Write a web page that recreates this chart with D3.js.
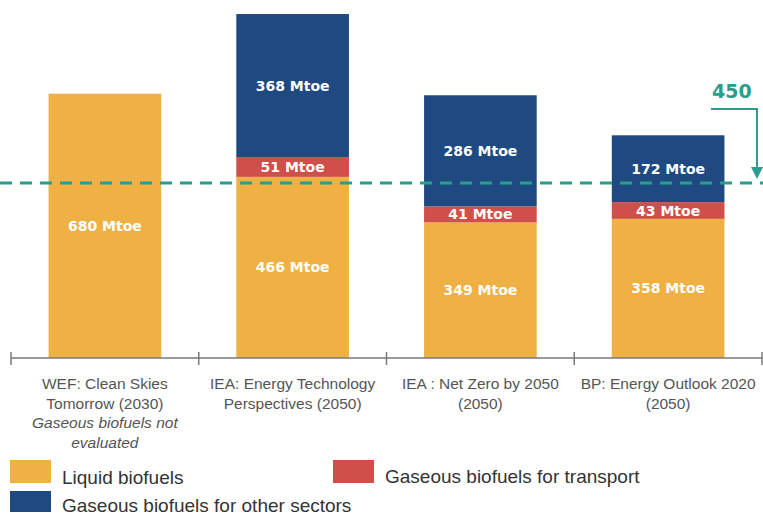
<!DOCTYPE html>
<html>
<head>
<meta charset="utf-8">
<script src="https://cdn.jsdelivr.net/npm/d3@7"></script>
<style>
  html, body { margin: 0; padding: 0; background: #ffffff; }
  svg { display: block; }
</style>
</head>
<body>
<svg id="chart" width="763" height="518"></svg>
<script>
// Biofuel demand scenarios (Mtoe)
const scenarios = ["WEF", "IEA ETP", "IEA NZE", "BP EO"];
const scenarioLines = [
  ["WEF: Clean Skies", "Tomorrow (2030)"],
  ["IEA: Energy Technology", "Perspectives (2050)"],
  ["IEA : Net Zero by 2050", "(2050)"],
  ["BP: Energy Outlook 2020", "(2050)"]
];
const scenarioNotes = [["Gaseous biofuels not", "evaluated"], [], [], []];

const liquidBiofuels = [680, 466, 349, 358];
const gaseousTransport = [0, 51, 41, 43];
const gaseousOther = [0, 368, 286, 172];

const seriesKeys = ["liquid", "transport", "other"];
const seriesNames = ["Liquid biofuels", "Gaseous biofuels for transport", "Gaseous biofuels for other sectors"];
const seriesColors = ["#EFB143", "#D04F4A", "#1F4A81"];

const referenceLevel = 450;
const referenceLabel = "450";
const unit = "Mtoe";

const rows = scenarios.map((s, i) => ({
  scenario: s,
  liquid: liquidBiofuels[i],
  transport: gaseousTransport[i],
  other: gaseousOther[i]
}));

const svg = d3.select("#chart");
const W = 763, H = 518;
svg.append("rect").attr("width", W).attr("height", H).attr("fill", "#ffffff");

const x = d3.scaleBand()
  .domain(scenarios)
  .range([11, 762])
  .paddingInner(0.4)
  .paddingOuter(0.2);

const y = d3.scaleLinear()
  .domain([0, 900])
  .range([358, 8.2]);

const color = d3.scaleOrdinal().domain(seriesKeys).range(seriesColors);

const stacked = d3.stack().keys(seriesKeys)(rows);

// Stacked bars
const layers = svg.append("g").attr("class", "bars")
  .selectAll("g")
  .data(stacked)
  .join("g")
  .attr("fill", d => color(d.key));

layers.selectAll("rect")
  .data(d => d.filter(seg => seg[1] - seg[0] > 0))
  .join("rect")
  .attr("x", d => x(d.data.scenario))
  .attr("width", x.bandwidth())
  .attr("y", d => y(d[1]))
  .attr("height", d => y(d[0]) - y(d[1]));

// Value labels centred in each segment
layers.selectAll("text")
  .data(d => d.filter(seg => seg[1] - seg[0] > 0))
  .join("text")
  .attr("x", d => x(d.data.scenario) + x.bandwidth() / 2)
  .attr("y", d => (y(d[0]) + y(d[1])) / 2)
  .attr("dy", "0.36em")
  .attr("text-anchor", "middle")
  .attr("fill", "#ffffff")
  .attr("font-family", "DejaVu Sans, sans-serif")
  .attr("font-weight", "bold")
  .attr("font-size", 14)
  .text(d => `${d[1] - d[0]} ${unit}`);

// Category axis with ticks at band boundaries
const step = x.step();
const axisY = y(0);
const axisG = svg.append("g").attr("class", "axis");
axisG.append("line")
  .attr("x1", x.range()[0]).attr("x2", x.range()[1])
  .attr("y1", axisY).attr("y2", axisY)
  .attr("stroke", "#7a7a7a").attr("stroke-width", 1.5);
const boundaries = d3.range(scenarios.length + 1).map(i => x.range()[0] + i * step);
axisG.selectAll("line.tick")
  .data(boundaries)
  .join("line")
  .attr("class", "tick")
  .attr("x1", d => d).attr("x2", d => d)
  .attr("y1", axisY - 6).attr("y2", axisY + 7)
  .attr("stroke", "#7a7a7a").attr("stroke-width", 1.5);

const labelG = axisG.selectAll("text.cat")
  .data(scenarios)
  .join("text")
  .attr("class", "cat")
  .attr("text-anchor", "middle")
  .attr("fill", "#555555")
  .attr("font-family", "Liberation Sans, Arial, sans-serif")
  .attr("font-size", 15.5);

labelG.each(function(s, i) {
  const t = d3.select(this);
  const cx = x(s) + x.bandwidth() / 2;
  const lines = scenarioLines[i].map(l => ({ text: l, italic: false }))
    .concat(scenarioNotes[i].map(l => ({ text: l, italic: true })));
  lines.forEach((ln, j) => {
    t.append("tspan")
      .attr("x", cx)
      .attr("y", 389 + j * 19.5)
      .attr("font-style", ln.italic ? "italic" : "normal")
      .text(ln.text);
  });
});

// Reference level: dashed line with annotated arrow
const teal = "#2A9D8C";
const refY = y(referenceLevel);
svg.append("line")
  .attr("x1", 0).attr("x2", W)
  .attr("y1", refY).attr("y2", refY)
  .attr("stroke", teal)
  .attr("stroke-width", 3)
  .attr("stroke-dasharray", "12,8");

const arrowX = 757;
svg.append("path")
  .attr("d", `M711,109 H${arrowX} V${refY - 14}`)
  .attr("fill", "none")
  .attr("stroke", teal)
  .attr("stroke-width", 2);
svg.append("path")
  .attr("d", `M${arrowX - 6},${refY - 16} L${arrowX + 6},${refY - 16} L${arrowX},${refY - 4} Z`)
  .attr("fill", teal);
svg.append("text")
  .attr("x", 712).attr("y", 98)
  .attr("fill", teal)
  .attr("font-family", "DejaVu Sans, sans-serif")
  .attr("font-weight", "bold")
  .attr("font-size", 19)
  .text(referenceLabel);

// Legend
const legendPos = [
  { x: 10, y: 460, h: 23, ty: 484 },
  { x: 333, y: 460, h: 23, ty: 483 },
  { x: 10, y: 491, h: 21, ty: 512 }
];
const legend = svg.append("g").attr("class", "legend")
  .selectAll("g")
  .data(seriesKeys)
  .join("g");
legend.append("rect")
  .attr("x", (d, i) => legendPos[i].x)
  .attr("y", (d, i) => legendPos[i].y)
  .attr("width", 41)
  .attr("height", (d, i) => legendPos[i].h)
  .attr("fill", d => color(d));
legend.append("text")
  .attr("x", (d, i) => legendPos[i].x + 52)
  .attr("y", (d, i) => legendPos[i].ty)
  .attr("fill", "#333333")
  .attr("font-family", "Liberation Sans, Arial, sans-serif")
  .attr("font-size", 19)
  .text((d, i) => seriesNames[i]);
</script>
</body>
</html>
